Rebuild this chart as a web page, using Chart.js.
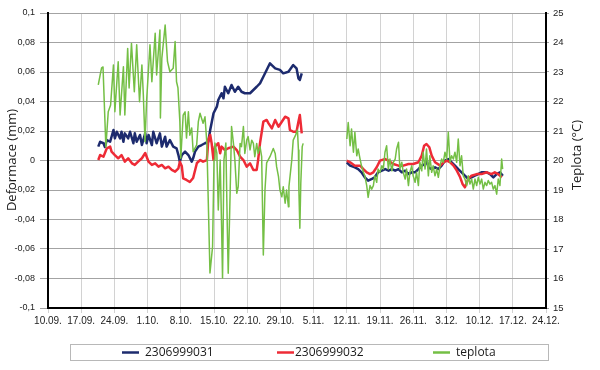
<!DOCTYPE html>
<html>
<head>
<meta charset="utf-8">
<script src="https://cdn.jsdelivr.net/npm/chart.js@4.4.0/dist/chart.umd.min.js"></script>
<style>
  html, body { margin: 0; padding: 0; background: #fff; }
  #wrap { width: 600px; height: 370px; position: relative; }
</style>
</head>
<body>
<div id="wrap"><canvas id="graf"></canvas></div>
<script>
// ------------------------------------------------------
// Data (x = days after 10.09., null = gap in measurement)
// ------------------------------------------------------
const xLabels = ["10.09.", "17.09.", "24.09.", "1.10.", "8.10.", "15.10.", "22.10.", "29.10.",
  "5.11.", "12.11.", "19.11.", "26.11.", "3.12.", "10.12.", "17.12.", "24.12."];

const seriesNames = ["2306999031", "2306999032", "teplota"];

const blueDays = [10.6, 11.0, 11.7, 12.0, 12.4, 13.1, 13.8, 14.1, 14.5, 15.2, 15.5, 15.9, 16.2, 16.9, 17.3,
  18.0, 18.3, 18.7, 19.4, 19.8, 20.5, 20.8, 21.2, 21.9, 22.2, 22.9, 23.6, 24.0, 24.7, 25.0,
  25.7, 26.4, 27.1, 27.5, 27.8, 28.2, 28.9, 29.6, 30.3, 30.6, 31.0, 31.7, 32.4, 33.1, 33.8,
  34.2, 34.9, 35.6, 35.9, 36.6, 37.0, 37.3, 38.0, 38.7, 39.4, 40.1, 40.8, 41.5, 42.6, 43.3,
  44.0, 44.7, 45.4, 46.1, 46.8, 47.9, 48.9, 49.6, 50.7, 51.7, 52.4, 52.8, 53.1, 53.5,
  58,
  63.0, 63.7, 64.7, 65.4, 66.1, 66.8, 67.5, 68.3, 68.9, 69.6, 70.4, 71.1, 71.8, 72.5, 73.2,
  73.9, 74.6, 75.3, 76.0, 76.7, 77.4, 78.1, 78.8, 79.5, 79.8, 80.2, 80.9, 81.6, 82.3, 83.0,
  83.7, 84.4, 85.1, 85.8, 86.5, 87.2, 87.9, 88.6, 89.3, 90.0, 90.7, 91.4, 92.5, 93.2, 93.9,
  94.6, 95.3, 95.9];
const blueVals = [0.0094, 0.0127, 0.0117, 0.0092, 0.0139, 0.0127, 0.0207, 0.015, 0.0195, 0.015, 0.0195, 0.0127, 0.0184, 0.015, 0.0195,
  0.0117, 0.0184, 0.0127, 0.0173, 0.0105, 0.0186, 0.0117, 0.0173, 0.0105, 0.0195, 0.0117, 0.0184, 0.0094, 0.0161, 0.0094,
  0.0139, 0.0094, 0.0083, 0.0037, -0.0008, 0.0037, 0.006, 0.0037, -0.0008, 0.0015, 0.006, 0.0094, 0.0105, 0.0117, 0.0127,
  0.0207, 0.032, 0.0365, 0.041, 0.0456, 0.0422, 0.05, 0.0456, 0.0512, 0.0466, 0.05, 0.0466, 0.0456, 0.0456, 0.0478,
  0.05, 0.0523, 0.0568, 0.0614, 0.0659, 0.0625, 0.0614, 0.0591, 0.0602, 0.0647, 0.0625, 0.0557, 0.0546, 0.0591,
  null,
  -0.0012, -0.0035, -0.0046, -0.0058, -0.008, -0.0114, -0.0137, -0.0125, -0.0114, -0.008, -0.0069, -0.0058, -0.0069, -0.0058, -0.0069,
  -0.0058, -0.008, -0.0069, -0.0092, -0.008, -0.008, -0.0058, -0.0035, -0.0024, 0.001, -0.0046, -0.0058, -0.0046, -0.0058, -0.0035,
  -0.0001, 0.001, -0.0012, -0.0035, -0.0058, -0.008, -0.0103, -0.0125, -0.0114, -0.0103, -0.0092, -0.008, -0.008, -0.0092, -0.0114,
  -0.0092, -0.008, -0.0103];

const redDays = [10.6, 11.0, 11.7, 12.4, 13.1, 13.4, 14.1, 14.8, 15.5, 16.2, 16.9, 17.7, 18.3, 19.0, 19.8,
  20.5, 21.2, 21.9, 22.6, 23.3, 24.0, 24.7, 25.4, 26.1, 26.8, 27.5, 27.8, 28.2, 28.5, 29.2,
  29.9, 30.6, 31.4, 32.1, 32.7, 33.5, 33.8, 34.2, 34.5, 34.9, 35.2, 35.9, 36.3, 36.6, 37.3,
  38.0, 39.1, 39.8, 40.5, 41.2, 41.9, 42.6, 43.3, 44.0, 44.3, 44.7, 45.4, 46.1, 46.5, 47.2,
  47.9, 48.6, 49.3, 50.0, 50.7, 51.0, 51.7, 52.4, 52.8, 53.1, 53.5,
  58,
  63.0, 63.7, 64.7, 65.8, 66.5, 67.2, 67.9, 68.6, 69.3, 70.0, 71.1, 71.8, 72.8, 73.9, 74.9,
  76.0, 77.0, 78.1, 78.8, 79.3, 79.8, 80.4, 80.9, 81.6, 82.7, 83.4, 84.1, 84.8, 85.5, 86.2,
  86.9, 87.4, 87.9, 88.6, 89.3, 90.4, 91.4, 92.5, 93.5, 94.2, 94.9, 95.7];
const redVals = [0.0003, 0.0037, 0.0026, 0.0083, 0.0094, 0.006, 0.0037, 0.0015, 0.0037, -0.0008, 0.0015, -0.0019, -0.003, -0.0008, 0.0015,
  0.0051, -0.0008, -0.003, -0.0019, -0.0042, -0.003, -0.0053, -0.0042, -0.0064, -0.0076, -0.0053, -0.0008, -0.0037, -0.0121, -0.0132,
  -0.0146, -0.0119, -0.0017, 0.0003, -0.0008, 0.0003, 0.0139, 0.0173, 0.0117, 0.0003, 0.0094, 0.0117, 0.0049, 0.0094, 0.0071,
  0.0083, 0.0094, 0.0071, 0.0026, 0.0003, -0.0042, -0.0019, -0.0064, -0.0064, 0.0003, 0.0117, 0.0263, 0.0275, 0.0252, 0.0218,
  0.0275, 0.0229, 0.0263, 0.0297, 0.0286, 0.0207, 0.0195, 0.0195, 0.0263, 0.0308, 0.0184,
  null,
  -0.0001, -0.0012, -0.0035, -0.0035, -0.0058, -0.008, -0.0092, -0.008, -0.0046, -0.0001, 0.001, -0.0001, -0.0024, -0.0035, -0.0035,
  -0.0024, -0.0024, -0.0012, 0.0033, 0.01, 0.0112, 0.009, 0.0033, -0.0012, -0.0035, -0.0012, -0.0001, -0.0012, -0.0035, -0.0069,
  -0.0114, -0.0159, -0.0182, -0.0125, -0.0103, -0.0092, -0.0092, -0.008, -0.0092, -0.008, -0.0092, -0.0114];

const greenDays = [10.6, 11.0, 11.3, 11.6, 12.2, 12.7, 13.2, 13.8, 14.1, 14.8, 15.2, 15.9, 16.2, 16.8, 17.1,
  17.6, 18.2, 18.7, 19.3, 19.8, 20.1, 20.45, 20.8, 21.5, 21.9, 22.6, 22.9, 23.6, 23.7, 24.0,
  24.7, 25.2, 25.7, 26.4, 26.8, 27.1, 27.4, 27.8, 28.0, 28.5, 28.9, 29.2, 29.6, 29.9, 30.3,
  30.6, 31.35, 31.7, 32.05, 32.7, 33.1, 33.5, 33.8, 34.15, 34.7, 35.0, 35.2, 35.6, 35.9, 36.3,
  36.6, 36.8, 37.1, 37.5, 37.8, 38.0, 38.4, 38.7, 39.1, 39.4, 39.8, 40.1, 40.5, 40.8, 41.2,
  41.5, 41.9, 42.2, 42.6, 42.95, 43.3, 43.6, 44.0, 44.3, 44.7, 45.05, 45.4, 45.75, 46.1, 46.8,
  47.5, 47.9, 48.2, 48.6, 48.9, 49.3, 49.6, 50.0, 50.3, 50.7, 50.8, 51.4, 51.7, 52.2, 52.6,
  52.8, 52.9, 53.1, 53.3, 53.6, 53.8,
  58,
  63.0, 63.3, 63.7, 64.0, 64.4, 64.7, 65.1, 65.4, 65.8, 66.1, 66.5, 66.8, 67.2, 67.5, 67.9,
  68.25, 68.6, 68.9, 69.3, 69.6, 70.0, 70.4, 70.7, 71.05, 71.4, 71.75, 72.1, 72.5, 72.8, 73.2,
  73.5, 73.9, 74.2, 74.6, 74.9, 75.3, 75.6, 76.0, 76.3, 76.7, 77.0, 77.4, 77.7, 78.1, 78.4,
  78.8, 79.1, 79.5, 79.8, 80.2, 80.5, 80.9, 81.2, 81.6, 81.95, 82.3, 82.65, 83.0, 83.35, 83.7,
  84.06, 84.4, 84.76, 85.1, 85.46, 85.8, 86.17, 86.5, 86.87, 87.2, 87.56, 87.92, 88.28, 88.61, 88.97,
  89.33, 89.67, 90.03, 90.38, 90.72, 91.08, 91.44, 91.78, 92.13, 92.49, 92.83, 93.19, 93.54, 93.88, 94.24,
  94.6, 94.93, 95.29, 95.65, 95.86];
const greenTemp = [22.56, 22.9, 23.14, 23.17, 20.46, 21.65, 21.88, 23.24, 21.65, 23.35, 21.54, 23.18, 21.54, 23.8, 22.46,
  23.97, 22.33, 23.92, 21.99, 23.24, 22.22, 20.64, 22.05, 23.92, 22.67, 24.31, 22.9, 24.42, 21.44, 23.46,
  24.59, 23.35, 23.01, 23.13, 24.03, 22.67, 22.46, 21.32, 20.08, 21.54, 21.65, 20.76, 21.65, 20.86, 21.1,
  20.3, 20.53, 21.32, 21.6, 21.26, 21.48, 20.58, 18.55, 16.19, 17.08, 20.02, 20.59, 20.25, 18.32, 20.02,
  17.76, 16.02, 20.02, 20.59, 17.76, 16.18, 18.9, 21.15, 20.58, 20.02, 18.89, 19.11, 20.58, 20.47, 21.15,
  20.24, 20.69, 20.81, 20.36, 20.69, 20.58, 20.13, 20.58, 20.24, 20.47, 20.13, 16.8, 19.0, 19.92, 20.13,
  20.41, 20.24, 19.79, 19.45, 19.0, 18.77, 19.11, 18.55, 19.0, 18.43, 19.11, 20.02, 20.69, 20.86, 21.03,
  20.36, 19.0, 17.7, 19.23, 20.47, 20.58,
  null,
  20.73, 21.29, 20.5, 21.07, 20.28, 20.96, 20.16, 20.39, 20.05, 19.82, 19.6, 19.48, 19.15, 18.75, 19.15,
  19.03, 19.15, 19.48, 19.26, 19.71, 19.6, 19.82, 19.71, 20.28, 20.5, 19.71, 20.05, 19.65, 19.94, 20.05,
  20.39, 20.62, 19.71, 19.94, 19.6, 19.37, 19.71, 19.15, 19.6, 19.82, 19.48, 19.26, 19.6, 19.15, 19.94,
  19.65, 20.28, 19.71, 20.39, 19.48, 20.16, 19.6, 19.82, 19.48, 19.71, 19.43, 19.82, 20.05, 19.94, 20.28,
  20.05, 20.96, 19.94, 20.16, 20.05, 20.28, 19.94, 20.73, 19.82, 20.16, 19.48, 19.37, 19.15, 19.48, 19.2,
  19.37, 19.03, 19.37, 19.15, 19.43, 19.2, 19.37, 19.03, 19.26, 19.15, 19.32, 19.2, 19.26, 19.03, 19.15,
  18.86, 19.37, 19.15, 20.05, 19.71];

// ------------------------------------------------------
// Helpers
// ------------------------------------------------------
function pairs(xs, ys) {
  return xs.map((x, i) => ({ x: x, y: ys[i] }));
}

function formatDeform(v) {
  const r = Math.round(v * 100) / 100;
  return String(r).replace(".", ",");
}

const NARROW = "'Liberation Sans Narrow', 'Liberation Sans', sans-serif";
const TEXT_FONT = "'Open Sans', 'Liberation Sans', sans-serif";

// axis titles + framed legend under the chart
const extrasPlugin = {
  id: "extras",
  afterDraw(chart) {
    const ctx = chart.ctx;
    ctx.save();

    // axis titles (both read bottom-to-top)
    ctx.fillStyle = "#1a1a1a";
    ctx.font = "13px " + TEXT_FONT;
    ctx.textAlign = "center";
    ctx.textBaseline = "middle";
    [["Deformace (mm)", 12, 160], ["Teplota (°C)", 577, 155]].forEach(([t, x, y]) => {
      ctx.save();
      ctx.translate(x, y);
      ctx.rotate(-Math.PI / 2);
      ctx.fillText(t, 0, 0);
      ctx.restore();
    });

    // legend frame
    ctx.strokeStyle = "#b8b8b8";
    ctx.lineWidth = 1;
    ctx.strokeRect(70.5, 344.5, 478, 16);

    // legend items
    const itemX = [122, 277, 433];
    ctx.font = "12px " + TEXT_FONT;
    ctx.textAlign = "left";
    chart.data.datasets.forEach((ds, i) => {
      const x = itemX[i];
      ctx.strokeStyle = ds.borderColor;
      ctx.lineWidth = 2.5;
      ctx.beginPath();
      ctx.moveTo(x, 352.5);
      ctx.lineTo(x + 17, 352.5);
      ctx.stroke();
      ctx.fillStyle = "#1a1a1a";
      ctx.fillText(ds.label, x + (i === 1 ? 18 : 23), 353);
    });
    ctx.restore();
  },
};

// ------------------------------------------------------
// Chart
// ------------------------------------------------------
new Chart(document.getElementById("graf"), {
  type: "line",
  data: {
    datasets: [
      {
        label: seriesNames[0],
        data: pairs(blueDays, blueVals),
        borderColor: "#1d2b6e",
        borderWidth: 2.5,
        yAxisID: "y",
        order: 3,
      },
      {
        label: seriesNames[1],
        data: pairs(redDays, redVals),
        borderColor: "#ee2b36",
        borderWidth: 2.5,
        yAxisID: "y",
        order: 2,
      },
      {
        label: seriesNames[2],
        data: pairs(greenDays, greenTemp),
        borderColor: "#74bf45",
        borderWidth: 1.5,
        yAxisID: "y2",
        order: 1,
      },
    ],
  },
  options: {
    responsive: true,
    maintainAspectRatio: false,
    animation: false,
    devicePixelRatio: 1,
    spanGaps: false,
    elements: {
      point: { radius: 0 },
      line: { tension: 0, borderJoinStyle: "round" },
    },
    layout: { padding: { top: 13, left: 0, right: 0, bottom: 0 } },
    plugins: {
      legend: { display: false },
      tooltip: { enabled: false },
    },
    scales: {
      x: {
        type: "linear",
        min: 0,
        max: 105,
        afterFit: (s) => { s.height = 62; },
        ticks: {
          stepSize: 7,
          autoSkip: false,
          maxRotation: 0,
          padding: 2,
          color: "#222",
          font: { family: NARROW, size: 10 },
          callback: (v) => xLabels[Math.round(v / 7)],
        },
        grid: { color: "#d2d2d2", tickLength: 5, tickColor: "#d2d2d2" },
        border: { display: true, color: "#000", width: 2 },
      },
      y: {
        position: "left",
        min: -0.1,
        max: 0.1,
        afterFit: (s) => { s.width = 48; },
        ticks: {
          stepSize: 0.02,
          padding: 5,
          color: "#222",
          font: { family: NARROW, size: 9 },
          callback: formatDeform,
        },
        grid: { color: "#a3a3a3", tickLength: 8, tickColor: "#a3a3a3" },
        border: { display: true, color: "#000", width: 2 },
      },
      y2: {
        position: "right",
        min: 15,
        max: 25,
        afterFit: (s) => { s.width = 54; },
        ticks: {
          stepSize: 1,
          padding: 4,
          color: "#222",
          font: { family: NARROW, size: 9.5 },
        },
        grid: { drawOnChartArea: false, tickLength: 3, tickColor: "#a3a3a3" },
        border: { display: true, color: "#000", width: 2 },
      },
    },
  },
  plugins: [extrasPlugin],
});
</script>
</body>
</html>
